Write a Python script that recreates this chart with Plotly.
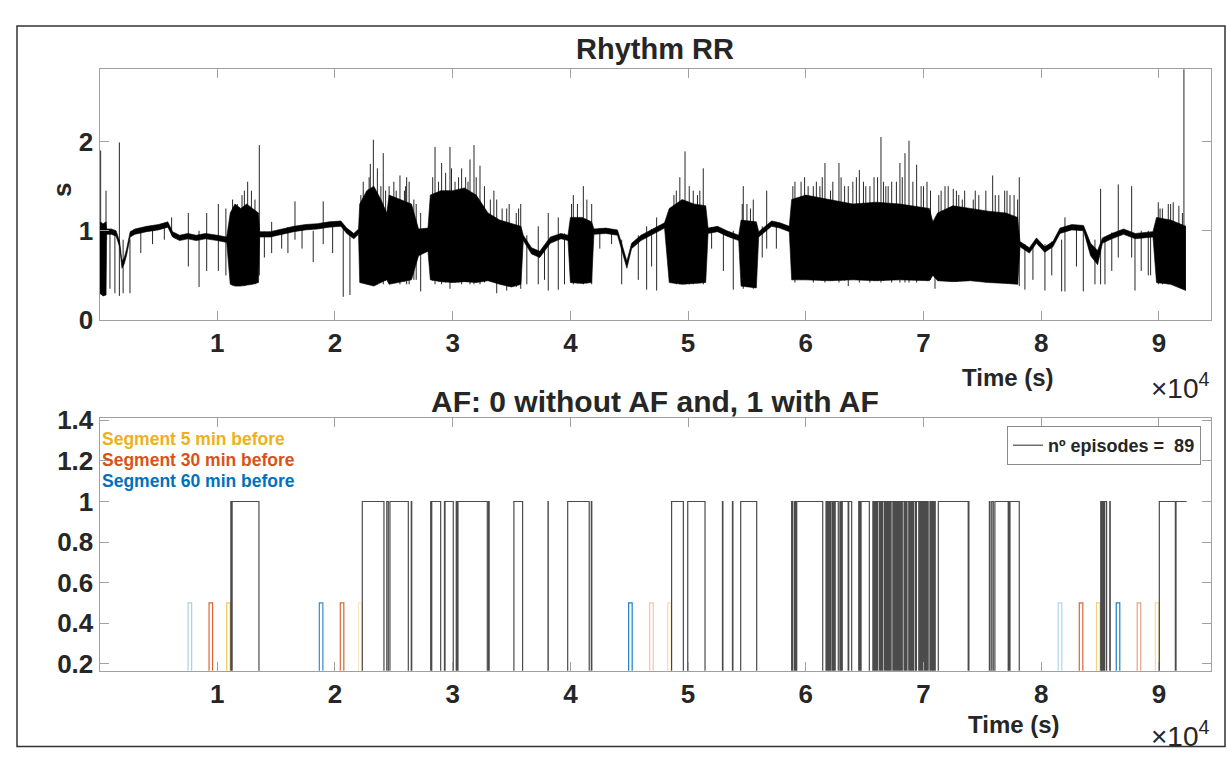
import plotly.graph_objects as go

# ---------------- DATA ----------------
# RR signal envelope (time in s, lower / upper RR in s)
rr_t = [0, 300, 550, 600, 1000, 1400, 1700, 1900, 2100, 2300, 2600, 3000, 4000, 5000, 5800,
        6200, 6800, 7500, 8200, 9000, 10000, 10800, 11100, 11500, 12000, 12500, 13000, 13500,
        13600, 14500, 15500, 16500, 17500, 18500, 19500, 20500, 21000, 21600, 22000, 22100,
        22700, 23300, 23900, 24400, 24600, 25500, 26500, 27100, 27900, 28100, 29000, 30000,
        31000, 32000, 33000, 34000, 35000, 35800, 36000, 36700, 37400, 38300, 39200, 39800,
        40000, 41000, 41800, 42000, 43000, 44000, 44400, 44800, 45200, 46000, 47000, 48000,
        48400, 49500, 50500, 51500, 51700, 52500, 53300, 54300, 54500, 55800, 56000, 56600,
        57100, 57800, 58600, 58800, 60000, 62000, 64000, 66000, 68000, 70500, 70800, 71200,
        72500, 74000, 75500, 77000, 78000, 78200, 79000, 79600, 80300, 81000, 81600, 82600,
        83600, 84200, 84800, 85200, 86000, 87000, 88000, 89500, 89800, 91000, 92300]
rr_lo = [0.30, 0.27, 0.28, 0.96, 0.96, 0.94, 0.82, 0.58, 0.63, 0.73, 0.93, 0.96, 0.99, 1.01, 1.04,
         0.93, 0.89, 0.91, 0.89, 0.91, 0.89, 0.87, 0.40, 0.38, 0.38, 0.39, 0.40, 0.42,
         0.93, 0.93, 0.96, 0.99, 1.01, 1.02, 1.04, 1.05, 0.97, 0.91, 0.96, 0.42,
         0.40, 0.38, 0.42, 0.45, 0.40, 0.42, 0.45, 0.72, 0.77, 0.45, 0.43, 0.42,
         0.43, 0.42, 0.44, 0.40, 0.37, 0.40, 0.89, 0.74, 0.70, 0.86, 0.91, 0.89,
         0.42, 0.41, 0.42, 0.96, 0.97, 0.95, 0.77, 0.58, 0.80, 0.89, 0.96, 1.03,
         0.42, 0.40, 0.41, 0.42, 0.97, 0.99, 0.94, 0.89, 0.38, 0.36, 0.93, 0.99,
         1.05, 1.03, 0.99, 0.45, 0.45, 0.44, 0.45, 0.44, 0.45, 0.44, 0.50, 0.44,
         0.43, 0.44, 0.42, 0.41, 0.40, 0.82, 0.75, 0.86, 0.76, 0.82, 0.97, 1.01,
         1.00, 0.72, 0.62, 0.86, 0.91, 0.96, 0.91, 0.93, 0.42, 0.40, 0.33]
rr_hi = [1.10, 1.08, 1.10, 1.02, 1.02, 1.00, 0.88, 0.66, 0.70, 0.80, 0.99, 1.02, 1.05, 1.07, 1.10,
         0.99, 0.95, 0.97, 0.95, 0.97, 0.95, 0.93, 1.20, 1.30, 1.25, 1.30, 1.25, 1.20,
         0.99, 0.99, 1.02, 1.05, 1.07, 1.08, 1.10, 1.11, 1.03, 0.97, 1.02, 1.30,
         1.45, 1.50, 1.35, 1.20, 1.40, 1.35, 1.30, 1.02, 1.03, 1.40, 1.45, 1.45,
         1.48, 1.40, 1.20, 1.12, 1.08, 1.05, 0.95, 0.81, 0.77, 0.93, 0.97, 0.95,
         1.15, 1.15, 1.10, 1.02, 1.03, 1.01, 0.84, 0.66, 0.86, 0.95, 1.02, 1.09,
         1.25, 1.35, 1.30, 1.28, 1.03, 1.05, 1.00, 0.95, 1.12, 1.10, 0.99, 1.05,
         1.11, 1.09, 1.05, 1.35, 1.40, 1.35, 1.30, 1.32, 1.30, 1.25, 1.10, 1.20,
         1.28, 1.25, 1.22, 1.20, 1.15, 0.88, 0.81, 0.92, 0.82, 0.88, 1.03, 1.07,
         1.06, 0.86, 0.78, 0.92, 0.97, 1.02, 0.97, 0.99, 1.15, 1.12, 1.05]

# Isolated RR excursions (time in s, from / to RR in s)
spike_t = [90, 545, 880, 1300, 1680, 2000, 2580, 6120, 7540, 8450, 9100, 10090, 10730, 12580,
           13570, 14620, 15470, 16600, 18150, 19000, 20700, 21270, 23260, 24100, 25520, 26300,
           26090, 27280, 28500, 29060, 29770, 30760, 31470, 31810, 32320, 33740, 34590, 35780,
           37270, 38120, 38970, 40250, 41100, 41810, 44360, 45770, 46480, 47330, 49740, 50440,
           51290, 53840, 54690, 55540, 56680, 59080, 60640, 61630, 62820, 63610, 64550, 65450,
           66390, 67300, 68000, 68430, 68770, 69420, 70980, 71830, 72530, 74230, 75880, 77350,
           78140, 78620, 80320, 81740, 82020, 83580, 84570, 85050, 85420, 86550, 87690, 87970,
           89100, 89950, 91220, 92130,
           12100, 12900, 22400, 22900, 23600, 24600, 25000, 25900, 26700, 28800, 29400, 30200,
           31100, 32700, 33200, 34200, 35400, 40600, 49000, 50800, 55000, 59600, 60200, 61200,
           62300, 63000, 64000, 64900, 65800, 66800, 67700, 69800, 70300, 71500, 72100, 73000,
           73500, 74700, 75300, 76400, 76900, 77700, 90300, 90800, 91700,
           11300, 11700, 12300, 13200, 22200, 23000, 23900, 24300, 25200, 26000, 26900,
           28300, 29900, 30500, 31300, 32000, 33500, 34800, 35600, 40100, 41400,
           48800, 49300, 50100, 51000, 54600, 55300,
           58900, 59900, 60900, 61400, 62100, 63300, 64300, 65100, 66100, 66600, 67000,
           68200, 69100, 70000, 70600, 71300, 72800, 73300, 74400, 76100, 77100, 78000,
           90100, 91000, 92000,
           3500, 4500, 5500, 14000, 16000, 17200, 19800, 36300, 37800, 39500, 42500, 43500,
           46900, 52000, 53000, 56300, 57500, 79300, 80900, 83000, 86000, 88500, 89300]
spike_lo = [0.30, 0.90, 0.35, 0.30, 0.27, 0.30, 0.30, 0.95, 0.60, 0.37, 0.55, 0.55, 0.50, 0.40,
            0.50, 0.75, 0.80, 0.90, 0.65, 0.85, 0.26, 0.28, 0.40, 0.40, 0.40, 0.40,
            0.40, 0.32, 0.40, 0.40, 0.35, 0.40, 0.40, 0.40, 0.40, 0.30, 0.33, 0.35,
            0.40, 0.33, 0.34, 0.40, 0.40, 0.40, 0.40, 0.45, 0.34, 0.33, 0.40, 0.40,
            0.40, 0.34, 0.35, 0.35, 0.80, 0.42, 0.42, 0.42, 0.42, 0.38, 0.42, 0.42,
            0.42, 0.42, 0.42, 0.42, 0.42, 0.42, 0.35, 0.45, 0.45, 0.45, 0.45, 0.42,
            0.38, 0.34, 0.33, 0.32, 0.32, 0.32, 0.40, 0.40, 0.40, 0.70, 0.70, 0.33,
            0.50, 0.40, 0.40, 0.50,
            0.40, 0.40, 0.42, 0.40, 0.40, 0.42, 0.42, 0.43, 0.45, 0.43, 0.42, 0.42,
            0.43, 0.42, 0.44, 0.40, 0.37, 0.41, 0.40, 0.41, 0.37, 0.45, 0.45, 0.45,
            0.44, 0.44, 0.45, 0.45, 0.44, 0.45, 0.45, 0.45, 0.44, 0.44, 0.44, 0.44,
            0.44, 0.44, 0.42, 0.42, 0.42, 0.41, 0.40, 0.40, 0.38,
            0.39, 0.38, 0.38, 0.40, 0.42, 0.40, 0.42, 0.44, 0.42, 0.44, 0.45,
            0.44, 0.42, 0.42, 0.43, 0.42, 0.43, 0.38, 0.39, 0.42, 0.41,
            0.41, 0.40, 0.40, 0.41, 0.38, 0.37,
            0.45, 0.45, 0.45, 0.44, 0.44, 0.44, 0.45, 0.45, 0.44, 0.44, 0.45,
            0.45, 0.45, 0.45, 0.45, 0.44, 0.43, 0.44, 0.44, 0.42, 0.41, 0.40,
            0.41, 0.40, 0.35,
            0.75, 0.85, 0.90, 0.70, 0.75, 0.80, 0.75, 0.40, 0.45, 0.40, 0.80, 0.85,
            0.60, 0.80, 0.55, 0.70, 0.80, 0.45, 0.50, 0.60, 0.55, 0.55, 0.50]
spike_hi = [1.90, 1.45, 1.00, 1.00, 1.99, 0.90, 0.90, 1.15, 1.20, 1.00, 1.20, 1.30, 1.25, 1.55,
            1.96, 1.10, 1.00, 1.33, 1.00, 1.33, 1.05, 1.00, 2.02, 1.87, 1.62, 1.55,
            1.60, 1.20, 1.94, 1.76, 1.94, 1.70, 1.80, 1.96, 1.73, 1.35, 1.25, 1.30,
            1.05, 1.20, 1.15, 1.40, 1.50, 1.30, 0.90, 0.95, 1.05, 1.15, 1.89, 1.45,
            1.70, 1.00, 1.50, 1.35, 1.45, 1.55, 1.50, 1.76, 1.76, 1.50, 1.68, 1.50,
            2.05, 1.55, 1.76, 1.87, 2.01, 1.74, 1.10, 1.50, 1.47, 1.35, 1.62, 1.40,
            1.60, 0.85, 0.85, 0.90, 1.15, 1.00, 0.90, 1.47, 0.90, 1.52, 1.50, 0.95,
            1.00, 1.32, 1.32, 3.00,
            1.40, 1.45, 1.55, 1.60, 1.70, 1.50, 1.55, 1.45, 1.35, 1.55, 1.65, 1.55,
            1.60, 1.50, 1.35, 1.25, 1.20, 1.30, 1.45, 1.40, 1.30, 1.55, 1.50, 1.50,
            1.55, 1.60, 1.55, 1.55, 1.60, 1.50, 1.55, 1.50, 1.55, 1.45, 1.50, 1.40,
            1.45, 1.40, 1.45, 1.40, 1.45, 1.40, 1.25, 1.30, 1.28,
            1.35, 1.30, 1.45, 1.35, 1.40, 1.75, 1.50, 1.45, 1.45, 1.50, 1.30,
            1.60, 1.70, 1.60, 1.55, 1.60, 1.45, 1.30, 1.25, 1.30, 1.35,
            1.40, 1.60, 1.50, 1.45, 1.30, 1.25,
            1.50, 1.60, 1.55, 1.60, 1.45, 1.50, 1.60, 1.50, 1.60, 1.55, 1.50,
            1.60, 1.55, 1.50, 1.45, 1.40, 1.45, 1.35, 1.45, 1.40, 1.45, 1.35,
            1.25, 1.30, 1.20,
            1.02, 1.05, 1.08, 0.99, 1.04, 1.06, 1.09, 0.95, 0.80, 0.97, 1.03, 1.02,
            1.02, 1.04, 1.00, 1.05, 1.10, 0.85, 0.88, 1.05, 0.98, 1.00, 0.99]

# AF episodes (start / end, s)
T_END = 92360
af_start = [11150, 11260, 22320, 24400, 24670, 26480, 28130, 28220, 29300, 29350, 30300, 30450,
            33050, 35200, 38100, 39770, 41780, 48600, 49970, 52920, 53770, 54470, 58800, 59050,
            59230, 61720, 61860, 62000, 62150, 62350, 62500, 62900, 63100, 63650, 64500, 64700,
            65700, 65900, 66100, 66350, 66550, 66750, 66900, 67100, 67250, 67450, 67600, 67750,
            67900, 68050, 68200, 68400, 68600, 68800, 68900, 69000, 69150, 69400, 69700, 69900,
            70100, 70300, 70550, 70700, 70900, 71260, 73830, 75600, 75800, 76070, 77250, 77350,
            85060, 85150, 85250, 85400, 85830, 90040, 91460]
af_end = [11200, 13540, 24160, 24530, 26230, 26520, 28180, 28980, 29320, 30050, 30400, 32940,
          33100, 35940, 38120, 41600, 41820, 49600, 51440, 52960, 53810, 55830, 58900, 59150,
          61440, 61800, 61950, 62100, 62280, 62450, 62760, 63000, 63600, 63900, 64600, 65400,
          65800, 66000, 66250, 66450, 66700, 66850, 67000, 67200, 67400, 67550, 67700, 67850,
          68000, 68150, 68350, 68500, 68750, 68850, 68950, 69100, 69300, 69600, 69800, 70000,
          70200, 70400, 70600, 70800, 71000, 73800, 73860, 75650, 75930, 77200, 77300, 78140,
          85100, 85200, 85300, 85560, 85870, 91400, 92360]
n_episodes = 89

# Pre-AF analysis segments (start, s) and their length
SEG_LEN = 300
seg5_start = [10800, 22000, 48270, 84700, 89700]
seg30_start = [9300, 20450, 46740, 83240, 88160]
seg60_start = [7520, 18670, 44950, 81450, 86380]
SEG_LEVEL = 0.5

x_tickvals = [10000, 20000, 30000, 40000, 50000, 60000, 70000, 80000, 90000]
x_ticktext = ["1", "2", "3", "4", "5", "6", "7", "8", "9"]
y1_tickvals = [0, 1, 2]
y1_ticktext = ["0", "1", "2"]
y2_tickvals = [0.2, 0.4, 0.6, 0.8, 1.0, 1.2, 1.4]
y2_ticktext = ["0.2", "0.4", "0.6", "0.8", "1", "1.2", "1.4"]

# ---------------- STYLE ----------------
W, H = 1227, 758
FONT = "Liberation Sans"
AX_COL = "#a0a0a0"
TXT_COL = "#262626"
C_YEL, C_ORA, C_BLU = (237, 177, 32), (217, 83, 25), (0, 114, 189)
op5 = [0.7, 0.3, 0.4, 0.6, 0.45]
op30 = [0.9, 0.9, 0.35, 0.9, 0.55]
op60 = [0.35, 0.8, 0.9, 0.3, 0.9]


def px(x):
    return x / W


def py(y):
    return 1 - y / H


fig = go.Figure()

# --- top: RR envelope ---
fig.add_trace(go.Scatter(x=rr_t, y=rr_lo, mode="lines", line=dict(color="black", width=0.6),
                         showlegend=False, xaxis="x", yaxis="y", hoverinfo="skip"))
fig.add_trace(go.Scatter(x=rr_t, y=rr_hi, mode="lines", line=dict(color="black", width=0.6),
                         fill="tonexty", fillcolor="black", showlegend=False,
                         xaxis="x", yaxis="y", hoverinfo="skip"))
sx, sy = [], []
for t, lo, hi in zip(spike_t, spike_lo, spike_hi):
    sx += [t, t, None]
    sy += [lo, hi, None]
fig.add_trace(go.Scatter(x=sx, y=sy, mode="lines", line=dict(color="rgba(0,0,0,0.85)", width=1),
                         showlegend=False, xaxis="x", yaxis="y", hoverinfo="skip"))

# --- bottom: segments ---
for starts, ops, col in [(seg60_start, op60, C_BLU), (seg30_start, op30, C_ORA), (seg5_start, op5, C_YEL)]:
    for s, o in zip(starts, ops):
        e = s + SEG_LEN
        fig.add_trace(go.Scatter(x=[s, s, e, e], y=[0, SEG_LEVEL, SEG_LEVEL, 0], mode="lines",
                                 line=dict(color="rgba(%d,%d,%d,%.2f)" % (col + (o,)), width=1.2),
                                 showlegend=False, xaxis="x2", yaxis="y2", hoverinfo="skip"))

# --- bottom: AF step signal ---
ax_, ay_ = [0], [0]
for s, e in zip(af_start, af_end):
    if e >= T_END:
        ax_ += [s, s, e]
        ay_ += [0, 1, 1]
    else:
        ax_ += [s, s, e, e]
        ay_ += [0, 1, 1, 0]
fig.add_trace(go.Scatter(x=ax_, y=ay_, mode="lines", line=dict(color="rgba(30,30,30,0.8)", width=1.2),
                         name="nº episodes =  %d" % n_episodes, showlegend=True,
                         xaxis="x2", yaxis="y2", hoverinfo="skip"))

tickfont = dict(family=FONT, size=26, color=TXT_COL, weight="bold")
xcommon = dict(range=[0, 94430], tickvals=x_tickvals, ticktext=x_ticktext, ticks="inside",
               ticklen=9, tickcolor=AX_COL, showline=True, linecolor=AX_COL, linewidth=1.2,
               mirror="ticks", showgrid=False, zeroline=False, tickfont=tickfont,
               automargin=False, domain=[px(99.6), px(1211)])
ycommon = dict(ticks="inside", ticklen=9, tickcolor=AX_COL, showline=True, linecolor=AX_COL,
               linewidth=1.2, mirror="ticks", showgrid=False, zeroline=False, tickfont=tickfont,
               automargin=False)

fig.update_layout(
    width=W, height=H, margin=dict(l=0, r=0, t=0, b=0, pad=0, autoexpand=False),
    paper_bgcolor="white", plot_bgcolor="white",
    xaxis=dict(**xcommon, anchor="y"),
    yaxis=dict(**ycommon, range=[0, 2.81], tickvals=y1_tickvals, ticktext=y1_ticktext,
               domain=[py(320), py(69.3)], anchor="x"),
    xaxis2=dict(**xcommon, anchor="y2"),
    yaxis2=dict(**ycommon, range=[0.166, 1.41], tickvals=y2_tickvals, ticktext=y2_ticktext,
                domain=[py(670.7), py(418.3)], anchor="x2"),
    legend=dict(x=px(1201), y=py(426), xanchor="right", yanchor="top",
                bordercolor="#8a8a8a", borderwidth=1, bgcolor="white",
                font=dict(family=FONT, size=18, color=TXT_COL, weight="bold"),
                tracegroupgap=0, itemwidth=30),
    shapes=[dict(type="rect", xref="paper", yref="paper", x0=px(17), x1=px(1225),
                 y0=py(746.5), y1=py(26), line=dict(color="#333333", width=1.5))],
)

ann = []
def A(text, x, y, size, color=TXT_COL, angle=0, xanchor="center", bold=True):
    ann.append(dict(text=text, x=px(x), y=py(y), xref="paper", yref="paper", showarrow=False,
                    xanchor=xanchor, yanchor="middle", textangle=angle,
                    font=dict(family=FONT, size=size, color=color,
                              weight="bold" if bold else "normal")))

A("Rhythm RR", 655, 49, 29)
A("s", 62, 190, 26, angle=-90)
A("Time (s)", 1008, 377, 24)
A("×10<sup>4</sup>", 1180, 386, 28, bold=False)
A("AF: 0 without AF and, 1 with AF", 655, 401, 30)
A("Time (s)", 1014, 724, 24)
A("×10<sup>4</sup>", 1180, 734, 28, bold=False)
A("Segment 5 min before", 100, 439, 17.5, color="rgb(237,177,32)", xanchor="left")
A("Segment 30 min before", 100, 460, 17.5, color="rgb(217,83,25)", xanchor="left")
A("Segment 60 min before", 100, 481, 17.5, color="rgb(0,114,189)", xanchor="left")
fig.update_layout(annotations=ann)

fig.write_html("out.html", config={"displayModeBar": False})

# remove the default page margin so the figure sits at the window origin
with open("out.html", "r", encoding="utf-8") as f:
    html = f.read()
html = html.replace("<head>", "<head><style>html,body{margin:0;padding:0;overflow:hidden;}</style>", 1)
with open("out.html", "w", encoding="utf-8") as f:
    f.write(html)
